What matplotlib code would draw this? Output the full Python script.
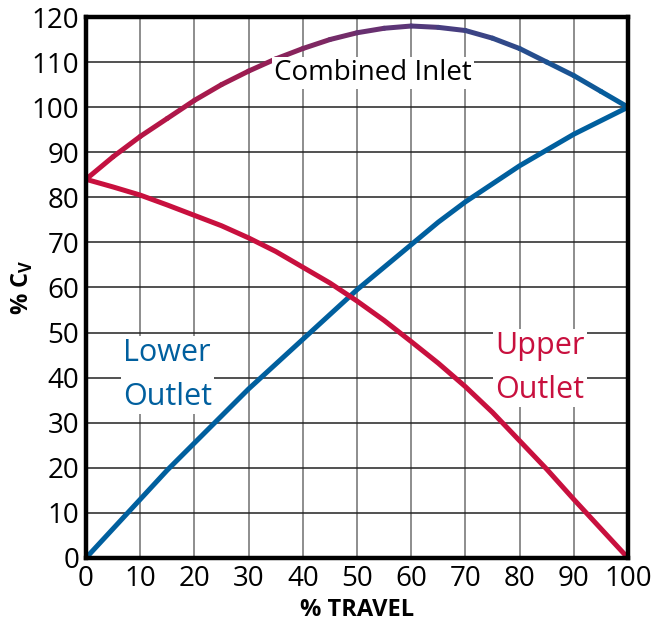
import matplotlib
matplotlib.use("Agg")
import matplotlib.pyplot as plt
import numpy as np
from matplotlib.collections import LineCollection
from matplotlib.colors import LinearSegmentedColormap

plt.rcParams['font.family'] = ['Open Sans', 'DejaVu Sans']

# % travel
travel = [0, 5, 10, 15, 20, 25, 30, 35, 40, 45, 50,
          55, 60, 65, 70, 75, 80, 85, 90, 95, 100]
# % Cv
lower_outlet = [0, 6.5, 13, 19.5, 25.5, 31.5, 37.5, 43, 48.5, 54, 59.5,
                64.5, 69.5, 74.5, 79, 83, 87, 90.5, 94, 97, 100]
upper_outlet = [84, 82.3, 80.5, 78.3, 76, 73.7, 71, 68, 64.5, 61, 57,
                52.7, 48, 43.2, 38, 32.3, 26, 19.7, 13, 6.5, 0]
combined_inlet = [84, 89, 93.5, 97.5, 101.5, 105, 108, 110.7, 113, 115, 116.5,
                  117.5, 118, 117.7, 117, 115.3, 113, 110, 107, 103.5, 100]

x_ticks = list(range(0, 101, 10))
y_ticks = list(range(0, 121, 10))

RED = '#c8103e'
BLUE = '#005f9e'

fig = plt.figure(figsize=(6.65, 6.32), dpi=100)
ax = fig.add_axes([0.1293, 0.1171, 0.8151, 0.856])

ax.set_xlim(0, 100)
ax.set_ylim(0, 120)
ax.set_xticks(x_ticks)
ax.set_yticks(y_ticks)
# vertical grid lighter grey, horizontal nearly black
ax.grid(True, axis='x', color='#7a7a7a', linewidth=1.2)
ax.grid(True, axis='y', color='#222222', linewidth=1.1)
ax.set_axisbelow(True)
ax.tick_params(length=0, labelsize=20, pad=5)
for s in ax.spines.values():
    s.set_linewidth(3.2)
    s.set_color('black')
    s.set_zorder(5)

ax.plot(travel, lower_outlet, color=BLUE, linewidth=3.6, solid_capstyle='butt', zorder=3)
ax.plot(travel, upper_outlet, color=RED, linewidth=3.6, solid_capstyle='butt', zorder=3)

# combined inlet: gradient red -> purple -> blue along travel
pts = np.column_stack([travel, combined_inlet])
segs = np.stack([pts[:-1], pts[1:]], axis=1)
cmap = LinearSegmentedColormap.from_list('rb', [(0, RED), (0.3, '#9a1d52'),
                                                (0.58, '#5c3577'), (1, BLUE)])
mids = (np.array(travel[:-1]) + np.array(travel[1:])) / 2 / 100
lc = LineCollection(segs, colors=cmap(mids), linewidth=3.6, capstyle='round', zorder=3)
ax.add_collection(lc)

box = dict(facecolor='white', edgecolor='none', pad=1.5)
ax.text(53, 107.5, 'Combined Inlet', fontsize=20, ha='center', va='center',
        bbox=box, zorder=4)
ax.text(6.8, 34, 'Lower\nOutlet', fontsize=22, color=BLUE, ha='left', va='baseline',
        linespacing=1.6, bbox=box, zorder=4)
ax.text(75.5, 35.5, 'Upper\nOutlet', fontsize=22, color=RED, ha='left', va='baseline',
        linespacing=1.6, bbox=box, zorder=4)

ax.set_xlabel('% TRAVEL', fontsize=17, fontweight='bold', labelpad=4)
ax.set_ylabel('% C$_\\mathregular{V}$', fontsize=17, fontweight='bold')
ax.yaxis.set_label_coords(-0.094, 0.5)

fig.savefig('out.png', dpi=100)
